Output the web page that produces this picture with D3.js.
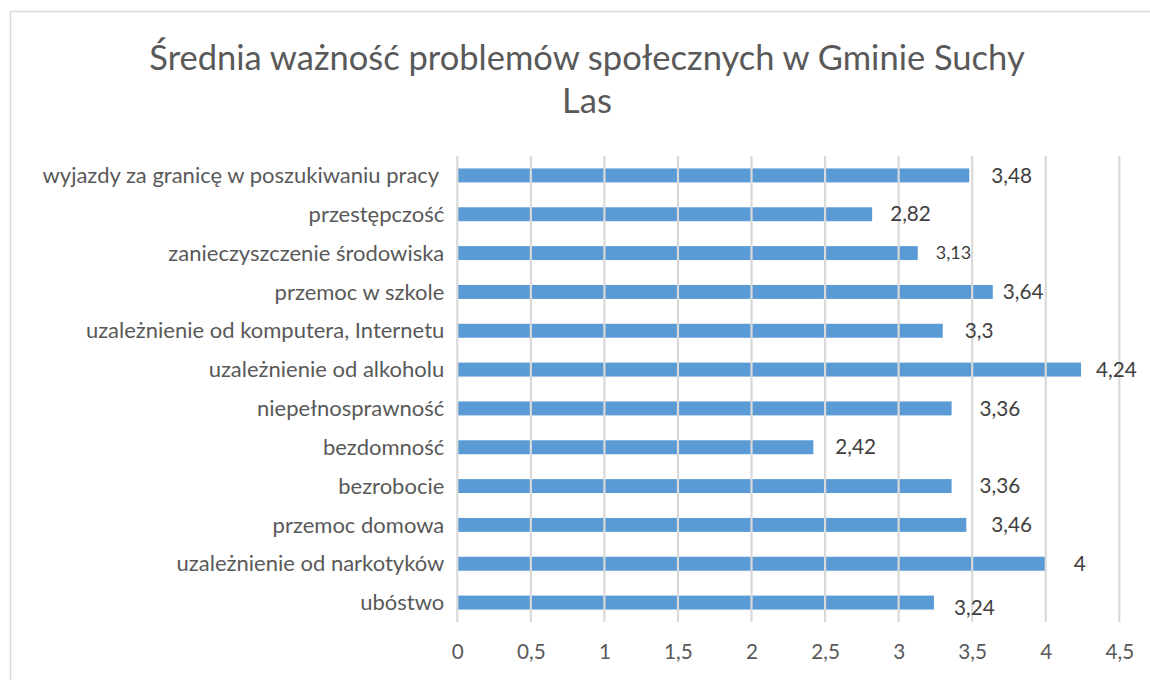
<!DOCTYPE html>
<html>
<head>
<meta charset="utf-8">
<script src="https://cdn.jsdelivr.net/npm/d3@7"></script>
<style>
  html, body { margin: 0; padding: 0; background: #fff; }
  svg { display: block; }
  text { font-family: Lato, "Open Sans", sans-serif; }
</style>
</head>
<body>
<svg id="chart" width="1150" height="680"></svg>
<script>
// ---- data ----
const titleLines = ["Średnia ważność problemów społecznych w Gminie Suchy", "Las"];
const categories = [
  "wyjazdy za granicę w poszukiwaniu pracy ",
  "przestępczość",
  "zanieczyszczenie środowiska",
  "przemoc w szkole",
  "uzależnienie od komputera, Internetu",
  "uzależnienie od alkoholu",
  "niepełnosprawność",
  "bezdomność",
  "bezrobocie",
  "przemoc domowa",
  "uzależnienie od narkotyków",
  "ubóstwo"
];
const values = [3.48, 2.82, 3.13, 3.64, 3.3, 4.24, 3.36, 2.42, 3.36, 3.46, 4, 3.24];
const valueLabels = ["3,48", "2,82", "3,13", "3,64", "3,3", "4,24", "3,36", "2,42", "3,36", "3,46", "4", "3,24"];
const tickValues = [0, 0.5, 1, 1.5, 2, 2.5, 3, 3.5, 4, 4.5];
const tickLabels = ["0", "0,5", "1", "1,5", "2", "2,5", "3", "3,5", "4", "4,5"];
// label nudges (manual label placement in the original)
const labelGap = [22, 18, 18, 10, 22, 15, 28, 22, 28, 25, 28, 20];
const labelDy = [0, 0, 0, 0, 0, 0, 0, 0, 0, 0, 0, 5];
const labelSmall = [false, false, true, false, false, false, false, false, false, false, false, false];

// ---- layout ----
const svg = d3.select("#chart");
const plot = { left: 457.3, right: 1119.3, top: 156, bottom: 622 };
const x = d3.scaleLinear().domain([0, 4.5]).range([plot.left, plot.right]);
const y = d3.scaleBand().domain(categories).range([plot.top, plot.bottom])
  .paddingInner(0.64).paddingOuter(0.32);

// chart border
svg.append("rect")
  .attr("x", 10.5).attr("y", 11.5).attr("width", 1200).attr("height", 720)
  .attr("fill", "#fff").attr("stroke", "#d9d9d9").attr("stroke-width", 1.5);

// title
svg.append("g").selectAll("text").data(titleLines).join("text")
  .attr("x", 587).attr("y", (d, i) => 70 + i * 43)
  .attr("text-anchor", "middle")
  .attr("font-size", 34.5)
  .attr("fill", "#595959")
  .text(d => d);

// bars
svg.append("g").selectAll("rect").data(values).join("rect")
  .attr("x", x(0))
  .attr("y", (d, i) => y(categories[i]))
  .attr("width", d => x(d) - x(0))
  .attr("height", y.bandwidth())
  .attr("fill", "#5b9bd5");

// gridlines (drawn over bars as in the reference)
svg.append("g").selectAll("line").data(tickValues).join("line")
  .attr("x1", d => x(d)).attr("x2", d => x(d))
  .attr("y1", plot.top).attr("y2", plot.bottom)
  .attr("stroke", "#d9d9d9").attr("stroke-width", 2.2);

// x axis tick labels
const xAxis = d3.axisBottom(x).tickValues(tickValues)
  .tickFormat((d, i) => tickLabels[i]).tickSize(0).tickPadding(0);
const gx = svg.append("g").attr("transform", `translate(0, ${plot.bottom + 37})`).call(xAxis);
gx.select(".domain").remove();
gx.selectAll("text")
  .attr("font-family", "Lato, 'Open Sans', sans-serif")
  .attr("font-size", 20.7)
  .attr("fill", "#595959")
  .attr("dy", 0);

// y axis category labels
const yAxis = d3.axisLeft(y).tickSize(0).tickPadding(0);
const gy = svg.append("g").attr("transform", `translate(${plot.left - 13}, 0)`).call(yAxis);
gy.select(".domain").remove();
gy.selectAll("text")
  .attr("font-family", "Lato, 'Open Sans', sans-serif")
  .attr("font-size", 22)
  .attr("fill", "#595959")
  .attr("dy", "0.35em")
  .style("white-space", "pre");

// value labels
svg.append("g").selectAll("text").data(values).join("text")
  .attr("x", (d, i) => x(d) + labelGap[i])
  .attr("y", (d, i) => y(categories[i]) + y.bandwidth() / 2 + labelDy[i])
  .attr("dy", "0.35em")
  .attr("font-size", (d, i) => labelSmall[i] ? 18 : 20.7)
  .attr("fill", "#404040")
  .text((d, i) => valueLabels[i]);
</script>
</body>
</html>
